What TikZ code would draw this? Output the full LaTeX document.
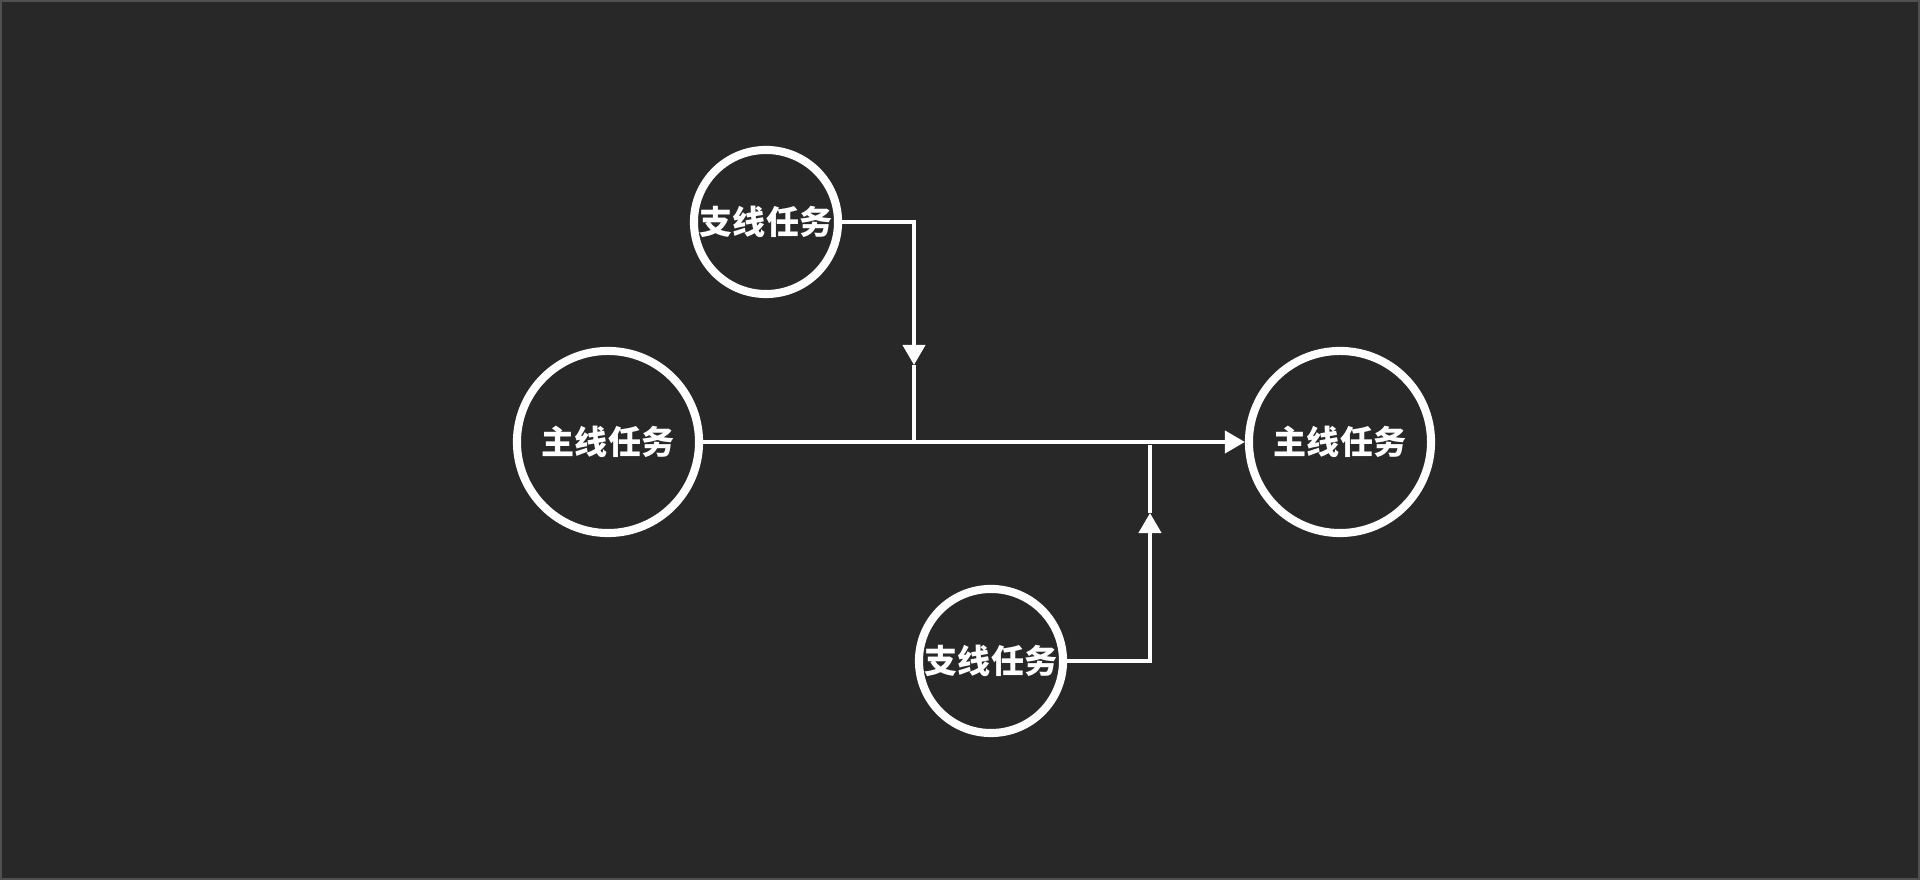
\documentclass[tikz,border=0pt]{standalone}
\usepackage{fontspec}
\newfontfamily\cjk{Noto Sans CJK SC}
\usepackage{tikz}
\usetikzlibrary{arrows.meta}
\definecolor{bgdark}{HTML}{282828}
\definecolor{bgedge}{HTML}{505050}

\begin{document}
\begin{tikzpicture}[x=0.01cm,y=-0.01cm]
          \useasboundingbox (0,0) rectangle (1920,880);
          \fill[bgdark] (0,0) rectangle (1920,880);
          \draw[bgedge,line width=0.5pt] (1,1) rectangle (1919,879);
          \begin{scope}[every node/.style={circle,draw=white,line width=2.3pt,text=white,font=\cjk\bfseries\fontsize{9.4pt}{11pt}\selectfont,inner sep=0pt}]
            \node[minimum size=1.82cm] (main1) at (608, 442) {主线任务};
            \node[minimum size=1.82cm] (main2) at (1340, 442) {主线任务};
            \node[minimum size=1.44cm] (side1) at (766, 222) {支线任务};
            \node[minimum size=1.44cm] (side2) at (991, 661) {支线任务};
          \end{scope}
          \coordinate (in1) at (914, 365);
          \coordinate (in2) at (1150, 513);
          \coordinate (top2) at (1150, 445);
          \begin{scope}[every path/.style={draw=white,line width=1.15pt},>={Triangle[length=0.2cm,width=0.22cm]}]
            \draw[->] (main1) -- (main2);
            \draw[->] (side1.east) -| (in1);
            \draw (in1) -- (in1 |- main1);
            \draw[->] (side2.east) -| (in2);
            \draw (in2) -- (top2);
          \end{scope}
        \end{tikzpicture}
\end{document}
